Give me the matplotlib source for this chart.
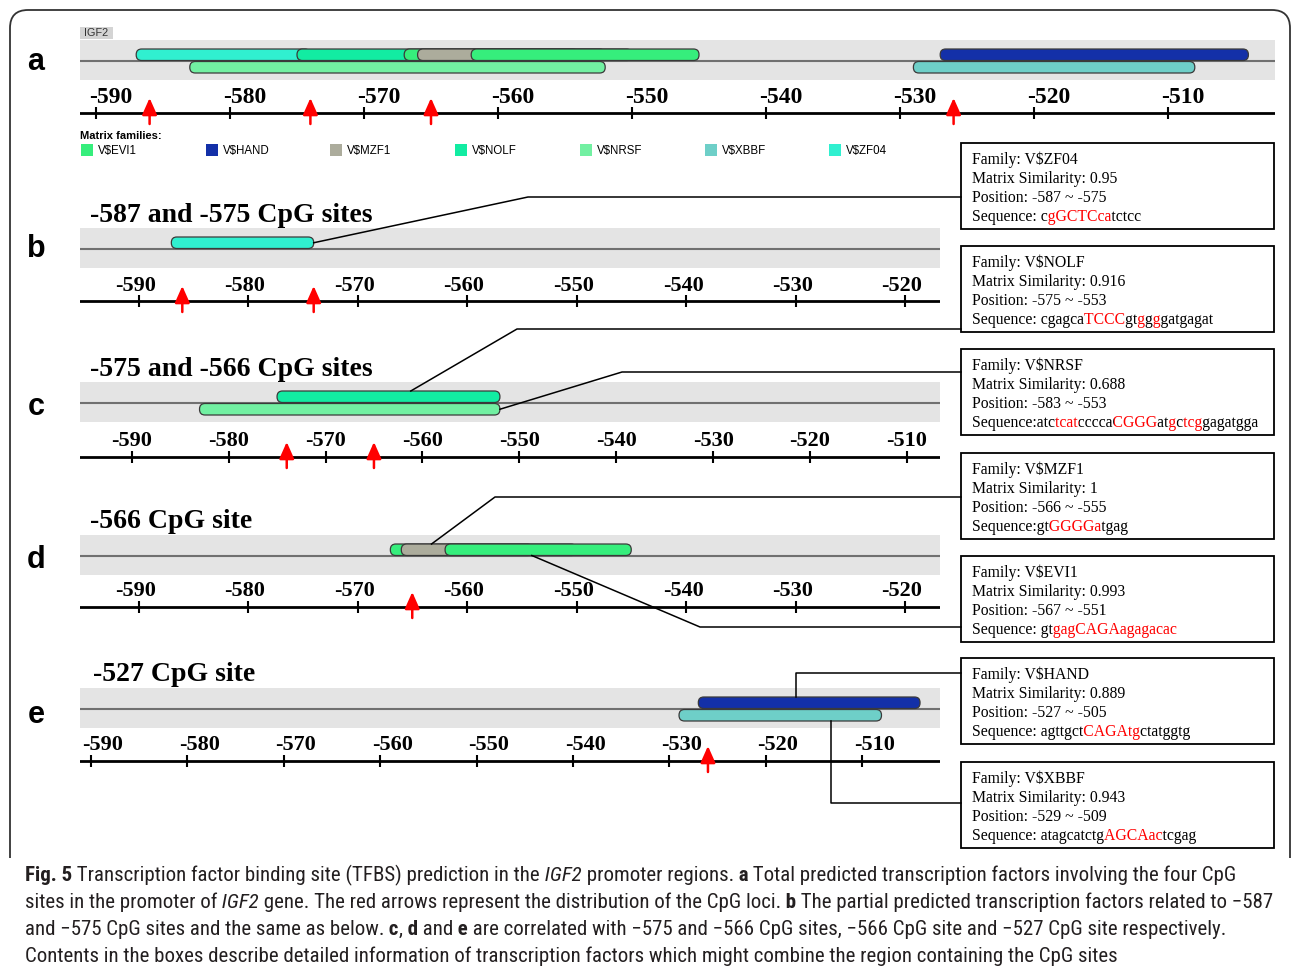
import numpy as np
import matplotlib.pyplot as plt
from matplotlib import font_manager
from matplotlib.font_manager import FontProperties, findfont, get_font
from matplotlib.backends.backend_agg import get_hinting_flag
from matplotlib.patches import FancyBboxPatch, Rectangle
from matplotlib.transforms import Bbox

W, H = 1292, 972

# matrix families in legend order and their colours
families = ["V$EVI1", "V$HAND", "V$MZF1", "V$NOLF", "V$NRSF", "V$XBBF", "V$ZF04"]
family_colors = ["#36ee7c", "#1330a8", "#acac9c", "#12eca2", "#72f0a2", "#6ecfc8", "#30f0d0"]

# predicted binding sites (bp), listed in drawing order
site_family = ["V$ZF04", "V$NOLF", "V$EVI1", "V$MZF1", "V$EVI1", "V$NRSF", "V$HAND", "V$XBBF"]
site_start = [-587, -575, -567, -566, -562, -583, -527, -529]
site_end = [-575, -553, -551, -555, -546, -553, -505, -509]
site_strand = ["+", "+", "+", "+", "+", "-", "+", "-"]

cpg_sites = [-587, -575, -566, -527]

panel_sites = {"a": [0, 1, 2, 3, 4, 5, 6, 7], "b": [0], "c": [1, 5], "d": [2, 3, 4], "e": [6, 7]}
panel_cpg = {"a": cpg_sites, "b": [-587, -575], "c": [-575, -566], "d": [-566], "e": [-527]}
panel_ticks = {
    "a": [-590, -580, -570, -560, -550, -540, -530, -520, -510],
    "b": [-590, -580, -570, -560, -550, -540, -530, -520],
    "c": [-590, -580, -570, -560, -550, -540, -530, -520, -510],
    "d": [-590, -580, -570, -560, -550, -540, -530, -520],
    "e": [-590, -580, -570, -560, -550, -540, -530, -520, -510],
}

# detail boxes: which site, similarity, sequence (core letters flagged with 1)
box_site = [0, 1, 5, 3, 2, 6, 7]
box_panel = ["b", "c", "c", "d", "d", "e", "e"]
box_similarity = ["0.95", "0.916", "0.688", "1", "0.993", "0.889", "0.943"]
box_seq_sep = [" ", " ", "", "", " ", " ", " "]
box_sequence = [
    [("c", 0), ("gGCTCca", 1), ("tctcc", 0)],
    [("cgagca", 0), ("TCCC", 1), ("gt", 0), ("g", 1), ("g", 0), ("g", 1), ("gatgagat", 0)],
    [("atc", 0), ("tcat", 1), ("cccca", 0), ("CGGG", 1), ("at", 0), ("g", 1), ("c", 0), ("tcg", 1), ("gagatgga", 0)],
    [("gt", 0), ("GGGGa", 1), ("tgag", 0)],
    [("gt", 0), ("gagCAGAagagacac", 1)],
    [("agttgct", 0), ("CAGAtg", 1), ("ctatggtg", 0)],
    [("atagcatctg", 0), ("AGCAac", 1), ("tcgag", 0)],
]

caption_lines = [
    [("Fig. 5", "b"), (" Transcription factor binding site (TFBS) prediction in the", "r"), (" IGF2", "i"),
     (" promoter regions.", "r"), (" a", "b"), (" Total predicted transcription factors involving the four CpG", "r")],
    [("sites in the promoter of", "r"), (" IGF2", "i"),
     (" gene. The red arrows represent the distribution of the CpG loci.", "r"), (" b", "b"),
     (" The partial predicted transcription factors related to \u2212587", "r")],
    [("and \u2212575 CpG sites and the same as below.", "r"), (" c", "b"), (",", "r"), (" d", "b"), (" and", "r"),
     (" e", "b"), (" are correlated with \u2212575 and \u2212566 CpG sites, \u2212566 CpG site and \u2212527 CpG site respectively.", "r")],
    [("Contents in the boxes describe detailed information of transcription factors which might combine the region containing the CpG sites", "r")],
]

# panel geometry in pixels: tick0 = x of the -590 tick, ppb = pixels per bp
layout = {
    "a": dict(x0=80, x1=1275, top=40, axis=113, tick0=96, ppb=13.4, dx=15, fs=17),
    "b": dict(x0=80, x1=940, top=228, axis=301, tick0=138.5, ppb=10.95, dx=-3, fs=16),
    "c": dict(x0=80, x1=940, top=382, axis=457, tick0=131.7, ppb=9.69, dx=0, fs=16),
    "d": dict(x0=80, x1=940, top=535, axis=607, tick0=138.5, ppb=10.95, dx=-3, fs=16),
    "e": dict(x0=80, x1=940, top=688, axis=761, tick0=91, ppb=9.64, dx=12, fs=16),
}
letter_y = {"a": 62, "b": 249, "c": 407, "d": 560, "e": 715}
title_pos = {"b": (90, 215), "c": (90, 369), "d": (90, 521), "e": (93, 674)}

# leader lines: point along the bar, which edge, elbow in pixels
lead_frac = [1.0, 0.6, 1.0, 0.23, 0.76, 0.44, 0.75]
lead_edge = ["mid", "top", "mid", "top", "bottom", "top", "bottom"]
lead_elbow = [(528, 197), (517, 329), (622, 372), (495, 497), (700, 627), (None, 673), (None, 803)]
box_top = [143, 246, 349, 453, 556, 658, 762]

SERIF = "Liberation Serif"
SANS = "Liberation Sans"
names = {f.name for f in font_manager.fontManager.ttflist}
cap_font = next((n for n in ["Roboto Condensed", "Liberation Sans Narrow", "Open Sans Condensed"] if n in names), "Lato")
cap_size = {"Liberation Sans Narrow": 16.0, "Roboto Condensed": 15.0, "Open Sans Condensed": 15.0}.get(cap_font, 13.2)

BAR_H = 11.5
UP_Y, LO_Y, MID_Y = 9, 21.5, 21

fig = plt.figure(figsize=(W / 100, H / 100), dpi=100)
ov = fig.add_axes([0, 0, 1, 1], zorder=5)
ov.set_xlim(0, W)
ov.set_ylim(H, 0)
ov.axis("off")
ov.patch.set_visible(False)
renderer = fig.canvas.get_renderer()

# rounded frame around the figure panels
frame = FancyBboxPatch((10, 10), 1280, 900, boxstyle="round,pad=0,rounding_size=18",
                       fc="none", ec="#333333", lw=1.3)
ov.add_patch(frame)
frame.set_clip_path(Rectangle((0, 0), W, 858, transform=ov.transData))


def bar_y(strand):
    return UP_Y if strand == "+" else LO_Y


def text_width(s, **kw):
    t = ov.text(0, 0, s, **kw)
    w = t.get_window_extent(renderer).width
    t.remove()
    return w


def draw_runs(x, y, runs, **kw):
    # lay differently styled pieces of one line end to end
    for s, props in runs:
        ov.text(x, y, s, ha="left", va="center", **kw, **props)
        x += text_width(s + "|", **kw, **props) - text_width("|", **kw, **props)


def ink_span(font, s):
    # left/right ink edge of a string relative to its pen origin, in pixels
    font.set_text(s, 0.0, flags=get_hinting_flag())
    w, _ = font.get_width_height()
    xo, _ = font.get_bitmap_offset()
    return xo / 64, (xo + w) / 64


def draw_colored(x, y, pieces, fontfamily, fontsize):
    # one string drawn once per colour, each copy clipped to its own letters
    font = get_font(findfont(FontProperties(family=fontfamily)))
    font.clear()
    font.set_size(fontsize, 100)
    s = "".join(p for p, _ in pieces)
    starts = np.cumsum([0] + [len(p) for p, _ in pieces])
    cuts = []
    for k in starts[1:-1]:
        _, right = ink_span(font, s[:k])
        _, right2 = ink_span(font, s[:k + 1])
        l1, r1 = ink_span(font, s[k])
        cuts.append(0.5 * (right + right2 - (r1 - l1)))
    edges = [-20] + cuts + [400]
    for k, (p, col) in enumerate(pieces):
        t = ov.text(x, y, s, ha="left", va="center", color=col, fontfamily=fontfamily, fontsize=fontsize)
        t.set_clip_box(Bbox.from_extents(x + edges[k], H - y - 14, x + edges[k + 1], H - y + 14))
        t.set_clip_on(True)


axes = {}
for key, p in layout.items():
    h = p["axis"] - p["top"] + 16
    ax = fig.add_axes([p["x0"] / W, 1 - (p["top"] + h) / H, (p["x1"] - p["x0"]) / W, h / H])
    v0 = -590 + (p["x0"] - p["tick0"]) / p["ppb"]
    v1 = -590 + (p["x1"] - p["tick0"]) / p["ppb"]
    ax.set_xlim(v0, v1)
    ax.set_ylim(h, 0)
    ax.axis("off")
    axes[key] = ax
    a_off = p["axis"] - p["top"]

    ax.add_patch(Rectangle((v0, 0), v1 - v0, 40, fc="#e4e4e4", ec="none", zorder=1))
    ax.plot([v0, v1], [MID_Y, MID_Y], color="#707070", lw=1.5, zorder=2)

    r = 5.5 / p["ppb"]
    for i in panel_sites[key]:
        col = family_colors[families.index(site_family[i])]
        ax.add_patch(FancyBboxPatch((site_start[i], bar_y(site_strand[i])), site_end[i] + 1 - site_start[i], BAR_H,
                                    boxstyle=f"round,pad=0,rounding_size={r}", mutation_aspect=p["ppb"],
                                    fc=col, ec="#3a3a3a", lw=0.9, zorder=3))

    ax.plot([v0, v1], [a_off, a_off], color="black", lw=2, zorder=2)
    ticks = panel_ticks[key]
    ax.vlines(ticks, a_off - 6, a_off + 6, color="black", lw=1.5, zorder=2)
    for t in ticks:
        ax.text(t + p["dx"] / p["ppb"], a_off - 15.5, str(t), ha="center", va="center",
                fontfamily=SERIF, fontweight="bold", fontsize=p["fs"])

    # red arrows mark the CpG sites
    for s in panel_cpg[key]:
        ax.annotate("", xy=(s + 1, a_off - 15), xytext=(s + 1, a_off + 11),
                    arrowprops=dict(arrowstyle="-|>,head_width=0.32,head_length=0.72", color="red",
                                    lw=1.8, shrinkA=0, shrinkB=0, mutation_scale=14), zorder=4)

    ov.text(36, letter_y[key], key, ha="center", va="center", fontfamily=SANS, fontweight="bold", fontsize=22)
    if key in title_pos:
        cp = panel_cpg[key]
        title = f"{cp[0]} and {cp[1]} CpG sites" if len(cp) == 2 else f"{cp[0]} CpG site"
        ov.text(*title_pos[key], title, ha="left", va="center", fontfamily=SERIF, fontweight="bold", fontsize=20)

# gene tag and legend
ov.add_patch(Rectangle((80, 27), 33, 12, fc="#d4d4d4", ec="none"))
ov.text(96.5, 33.5, "IGF2", ha="center", va="center", fontfamily=SANS, fontsize=7.8, color="#333333")
ov.text(80, 136, "Matrix families:", ha="left", va="center", fontfamily=SANS, fontweight="bold", fontsize=8)
for k, (name, col) in enumerate(zip(families, family_colors)):
    x = 81 + k * 124.7
    ov.add_patch(Rectangle((x, 144), 12, 12, fc=col, ec="none"))
    ov.text(x + 17, 151, name.replace("$", r"\$"), ha="left", va="center", fontfamily=SANS, fontsize=8.3)

# detail boxes with leader lines to the bars
for j, i in enumerate(box_site):
    top = box_top[j]
    ov.add_patch(Rectangle((961, top), 313, 86, fc="white", ec="black", lw=1.3, zorder=1))
    fam = site_family[i].replace("$", r"\$")
    lines = [f"Family: {fam}", f"Matrix Similarity: {box_similarity[j]}",
             f"Position: {site_start[i]} ~ {site_end[i]}"]
    for k, line in enumerate(lines):
        ov.text(972, top + 17 + 19 * k, line, ha="left", va="center", fontfamily=SERIF, fontsize=11.3)
    pieces = [("Sequence:", "black")]
    for n, (seg, core) in enumerate(box_sequence[j]):
        txt = box_seq_sep[j] + seg if n == 0 else seg
        pieces.append((txt, "red" if core else "black"))
    draw_colored(972, top + 17 + 19 * 3, pieces, SERIF, 11.3)

    ax = axes[box_panel[j]]
    y0 = bar_y(site_strand[i])
    ay = {"mid": y0 + BAR_H / 2, "top": y0, "bottom": y0 + BAR_H}[lead_edge[j]]
    ax_bp = site_start[i] + lead_frac[j] * (site_end[i] + 1 - site_start[i])
    px, py = ax.transData.transform((ax_bp, ay))
    py = H - py
    ex, ey = lead_elbow[j]
    if ex is None:
        ex = px
    ov.plot([px, ex, 961], [py, ey, ey], color="black", lw=1.1, zorder=2)

# caption
style = {"r": {}, "b": {"fontweight": "bold"}, "i": {"fontstyle": "italic"}}
for k, line in enumerate(caption_lines):
    runs = [(s, style[st]) for s, st in line]
    draw_runs(25, 875 + 27 * k, runs, fontfamily=[cap_font, "DejaVu Sans"], fontsize=cap_size, color="#231f20")

fig.savefig("out.png", dpi=100)
